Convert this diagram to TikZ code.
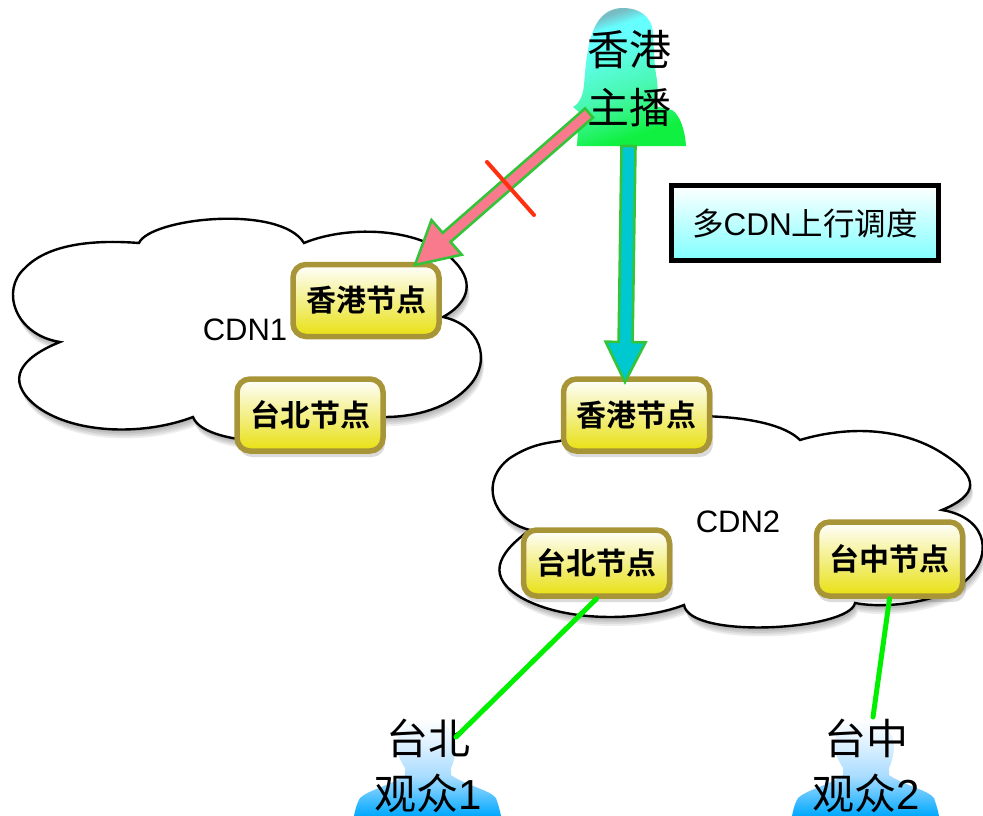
\documentclass[tikz,border=0pt]{standalone}
\usepackage{fontspec}
\setmainfont{Liberation Sans}
\newfontfamily\cjk{Noto Sans CJK SC}
\newfontfamily\cjkb{Noto Sans CJK SC Bold}
\usetikzlibrary{calc}
\definecolor{wgreen}{HTML}{10F040}
\definecolor{wmid}{HTML}{48F8B0}
\definecolor{wcyan}{HTML}{66FFFF}
\definecolor{wgrey}{HTML}{78BCC4}
\definecolor{vblue}{HTML}{00A8FF}
\definecolor{vmid}{HTML}{A8DCFF}
\definecolor{vpale}{HTML}{E0F2FF}
\definecolor{nodeborder}{HTML}{A89538}
\definecolor{nodeyellow}{HTML}{E8E010}
\definecolor{arrowgreen}{HTML}{33C43A}
\definecolor{arrowpink}{HTML}{F87A8C}
\definecolor{arrowblue}{HTML}{00C8D0}
\definecolor{linkgreen}{HTML}{00F000}
\definecolor{crossred}{HTML}{FF3010}
\definecolor{boxcyan}{HTML}{80FFFF}
\pgfdeclareverticalshading{womanshade}{100bp}{color(0bp)=(wgreen);color(28bp)=(wgreen);color(45bp)=(wmid);color(66bp)=(wcyan);color(70bp)=(wcyan);color(75bp)=(wgrey);color(100bp)=(wgrey)}
\pgfdeclareverticalshading{viewershade}{100bp}{color(0bp)=(vblue);color(25bp)=(vblue);color(45bp)=(vmid);color(62bp)=(vpale);color(74bp)=(white);color(100bp)=(white)}
\tikzset{
  x=1pt,y=-1pt,
  cloudline/.style={draw=black,line width=2.4pt,fill=white},
  cdnnode/.style={draw=nodeborder,line width=5.5pt,rounded corners=13pt,top color=white,bottom color=nodeyellow,
     minimum height=72pt,inner sep=0pt,font=\cjkb\fontsize{30}{33}\selectfont,text=black},
  nodewide/.style={cdnnode,minimum width=146pt},
  bigtext/.style={font=\cjk\fontsize{42}{45}\selectfont,inner sep=0pt,text=black},
  cdnlabel/.style={font=\fontsize{31}{34}\selectfont,inner sep=0pt,text=black},
  link/.style={draw=linkgreen,line width=5pt,line cap=round},
  blockline/.style={draw=arrowgreen,line width=2.6pt,line join=miter},
}
% #1 from, #2 to, #3 fill, #4 half shaft, #5 head length, #6 half head
\newcommand{\blockarrow}[6]{%
  \coordinate (neck) at ($(#2)!#5pt!(#1)$);
  \path[blockline,fill=#3]
    ($(#1)!#4pt!90:(#2)$) -- ($(neck)!#4pt!90:(#2)$) -- ($(neck)!#6pt!90:(#2)$) -- (#2)
    -- ($(neck)!#6pt!-90:(#2)$) -- ($(neck)!#4pt!-90:(#2)$) -- ($(#1)!#4pt!-90:(#2)$) -- cycle;
}
\newcommand{\cloudA}{(139,243) .. controls (150,218) and (280,204) .. (304,243)
  .. controls (350,224) and (425,228) .. (455,262) .. controls (477,285) and (465,305) .. (443,317)
  .. controls (480,325) and (492,360) .. (470,385) .. controls (450,408) and (415,417) .. (385,417)
  .. controls (340,450) and (205,450) .. (193,417) .. controls (140,437) and (70,433) .. (35,405)
  .. controls (5,380) and (20,358) .. (60,342) .. controls (15,335) and (0,290) .. (25,268)
  .. controls (50,242) and (100,240) .. (139,243) -- cycle}
\newcommand{\cloudB}{(800,440) .. controls (850,425) and (905,428) .. (945,455)
  .. controls (980,478) and (978,495) .. (942,510) .. controls (990,518) and (995,560) .. (960,585)
  .. controls (930,605) and (880,608) .. (855,603) .. controls (850,630) and (690,640) .. (684,605)
  .. controls (640,622) and (565,622) .. (522,598) .. controls (487,578) and (495,555) .. (530,530)
  .. controls (490,520) and (480,480) .. (510,458) .. controls (530,445) and (545,443) .. (560,441)
  -- (600,425) .. controls (660,412) and (770,410) .. (800,440) -- cycle}
\newcommand{\viewerpath}{(422,717) .. controls (440,717) and (456,730) .. (456,745) .. controls (456,755) and (453,764) .. (451,768)
  -- (451,775) .. controls (465,785) and (490,790) .. (496,798) .. controls (498,804) and (500,810) .. (501,816)
  -- (354,816) .. controls (355,810) and (357,803) .. (360,798) .. controls (368,790) and (392,785) .. (405,775)
  -- (405,768) .. controls (400,760) and (396,752) .. (397,742) .. controls (398,727) and (410,717) .. (422,717) -- cycle}
\begin{document}
\begin{tikzpicture}
\useasboundingbox (0,0) rectangle (983,816);
% clouds with soft shadow
\foreach \s in {2,4,...,10}{
  \fill[black,opacity=.07,shift={(\s*0.3,\s*0.9)}] \cloudA;
  \fill[black,opacity=.07,shift={(\s*0.3,\s*0.9)}] \cloudB;
}
\path[cloudline] \cloudA;
\path[cloudline] \cloudB;
\node[cdnlabel] (cdna) at (245,330) {CDN1};
\node[cdnlabel] (cdnb) at (738,522) {CDN2};
% cdn nodes
\foreach \a/\b/\c/\d in {238/379/382/451,563/379/710/451,523/530/670/596,816/522/963/596}{
  \fill[black,opacity=.14,rounded corners=13pt] (\a+1,\b+3) rectangle (\c+3,\d+6);
}
\node[nodewide] (hka) at (366,300.5) {\raisebox{-1pt}{香港节点}};
\node[nodewide] (tba) at (310,415) {\raisebox{-2pt}{台北节点}};
\node[nodewide] (hkb) at (636.5,415) {\raisebox{-2pt}{香港节点}};
\node[nodewide,minimum height=66pt] (tbb) at (596.5,563) {\raisebox{-2pt}{台北节点}};
\node[nodewide,minimum height=74pt] (tcb) at (889.5,559) {\raisebox{-2pt}{台中节点}};
% streamer
\path[shading=womanshade,shading angle=18]
  (623,8) .. controls (638,8) and (651,15) .. (653,32) .. controls (654,50) and (654,65) .. (657,80)
  .. controls (658,90) and (658,100) .. (655,106) -- (672,110) .. controls (680,115) and (685,130) .. (686,146)
  -- (577,146) -- (579,112) -- (573,107) .. controls (580,103) and (583,95) .. (584,85)
  .. controls (586,60) and (588,35) .. (599,20) .. controls (605,12) and (613,8) .. (623,8) -- cycle;
\node[bigtext] (st1) at (629,50) {香港};
\node[bigtext] (st2) at (629,108) {主播};
% viewers
\path[shading=viewershade] \viewerpath;
\path[shading=viewershade,shift={(438,0)}] \viewerpath;
\node[bigtext] (vt1) at (428,738) {台北};
\node[bigtext] (vt2) at (428,793) {观众{\rmfamily 1}};
\node[bigtext] (vt3) at (866,738) {台中};
\node[bigtext] (vt4) at (866,793) {观众{\rmfamily 2}};
% links
\coordinate (va) at (456,737);
\coordinate (vb) at (873,717);
\draw[link] (tbb.south) -- (va);
\draw[link] (tcb.south) -- (vb);
% block arrows
\coordinate (pinkfrom) at (589,113);
\coordinate (pinkto) at (415,265);
\coordinate (bluefrom) at (628.5,146);
\coordinate (blueto) at (625,382);
\blockarrow{bluefrom}{blueto}{arrowblue}{7}{40}{20}
\blockarrow{pinkfrom}{pinkto}{arrowpink}{6}{42}{23}
% cross
\coordinate (xa) at (487,162);
\coordinate (xb) at (534,215);
\draw[crossred,line width=4pt,line cap=round] (xa) -- (xb);
% box
\node[draw=black,line width=5pt,minimum width=267pt,minimum height=75pt,inner sep=0pt,
  top color=white,bottom color=boxcyan,
  font=\fontsize{31.5}{34}\selectfont] (box) at (805,223) {\raisebox{-4pt}{{\cjk 多}CDN{\cjk 上行调度}}};
\end{tikzpicture}
\end{document}
